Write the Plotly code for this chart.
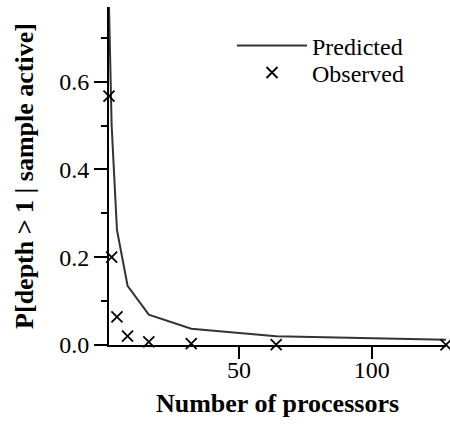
import plotly.graph_objects as go

processors = [1, 2, 4, 8, 16, 32, 64, 128]
predicted = [0.77, 0.50, 0.262, 0.135, 0.069, 0.037, 0.020, 0.012]
observed = [0.567, 0.200, 0.064, 0.020, 0.007, 0.003, 0.001, 0.0005]

x_ticks = [50, 100]
y_ticks = [0.0, 0.2, 0.4, 0.6]
y_tick_labels = ["0.0", "0.2", "0.4", "0.6"]

FONT = "Liberation Serif"

fig = go.Figure()
fig.add_trace(go.Scatter(
    x=processors, y=predicted, mode="lines", name="Predicted",
    line=dict(color="#333333", width=2), cliponaxis=True, legend="legend",
))
fig.add_trace(go.Scatter(
    x=processors, y=observed, mode="markers", name="Observed",
    marker=dict(symbol="x-thin-open", size=11, color="black",
                line=dict(color="black", width=1.8)),
    cliponaxis=False, legend="legend2",
))

leg_common = dict(xanchor="left", yanchor="middle", bgcolor="rgba(0,0,0,0)",
                  font=dict(size=24, family=FONT, color="black"), itemwidth=70)

fig.update_layout(
    width=450, height=428,
    margin=dict(l=109, r=4, t=7, b=83),
    paper_bgcolor="white", plot_bgcolor="white",
    font=dict(family=FONT, size=24, color="black"),
    showlegend=True,
    legend=dict(x=0.365, y=0.885, **leg_common),
    legend2=dict(x=0.365, y=0.805, **leg_common),
    xaxis=dict(
        range=[1, 128], showgrid=False, zeroline=False,
        showline=True, linecolor="black", linewidth=2,
        ticks="outside", ticklen=12, tickwidth=2, tickcolor="black",
        tickvals=x_ticks, ticktext=[str(v) for v in x_ticks],
        tickfont=dict(size=24, family=FONT, color="black"),
        ticklabelstandoff=-10,
        title=dict(text="<b>Number of processors</b>", font=dict(size=26, family=FONT), standoff=12),
    ),
    yaxis=dict(
        range=[0, 0.77], showgrid=False, zeroline=False,
        showline=True, linecolor="black", linewidth=2,
        ticks="outside", ticklen=13, tickwidth=2, tickcolor="black",
        tickvals=y_ticks, ticktext=y_tick_labels,
        tickfont=dict(size=24, family=FONT, color="black"),
        minor=dict(tickvals=[0.1, 0.3, 0.5, 0.7], ticks="outside", ticklen=6,
                   tickwidth=2, tickcolor="black"),
        title=dict(text="<b>P[depth &gt; 1 | sample active]</b>", font=dict(size=26, family=FONT), standoff=18),
    ),
)

fig.write_html("out.html")
